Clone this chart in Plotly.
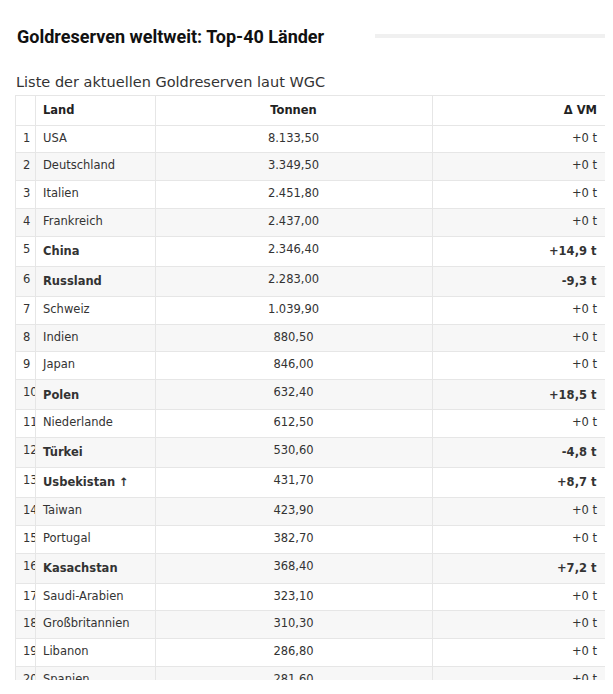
import plotly.graph_objects as go

ranks = [str(i) for i in range(1, 21)]
countries = ["USA","Deutschland","Italien","Frankreich","China","Russland","Schweiz","Indien","Japan","Polen",
             "Niederlande","Türkei","Usbekistan ↑","Taiwan","Portugal","Kasachstan","Saudi-Arabien","Großbritannien","Libanon","Spanien"]
tonnes = ["8.133,50","3.349,50","2.451,80","2.437,00","2.346,40","2.283,00","1.039,90","880,50","846,00","632,40",
          "612,50","530,60","431,70","423,90","382,70","368,40","323,10","310,30","286,80","281,60"]
delta = ["+0 t","+0 t","+0 t","+0 t","+14,9 t","-9,3 t","+0 t","+0 t","+0 t","+18,5 t",
         "+0 t","-4,8 t","+8,7 t","+0 t","+0 t","+7,2 t","+0 t","+0 t","+0 t","+0 t"]
headers = ["", "Land", "Tonnen", "Δ VM"]

bold = [d != "+0 t" for d in delta]
land_txt = [f"<b>{c}</b>" if b else c for c, b in zip(countries, bold)]
delta_txt = [f"<b>{d}</b>" if b else d for d, b in zip(delta, bold)]
fills = ["#ffffff" if i % 2 == 0 else "#f7f7f7" for i in range(20)]

ML, MR, MT, MB = 7, 16, 87, 22
W, H = 613, 694
PW, PH = W - ML - MR, H - MT - MB

def px(xs):  # screen x -> paper
    return (xs - 8 - ML) / PW

def py(ys):  # screen y -> paper
    return (H - (ys - 8) - MB) / PH

fig = go.Figure(go.Table(
    columnwidth=[20, 120, 277, 173],
    header=dict(values=["", "<b>Land</b>", "<b>Tonnen</b>", "<b>Δ VM</b>"],
                align=["left", "left", "center", "right"],
                fill_color="white", line_color="#e6e6e6",
                font=dict(family="DejaVu Sans", size=11.5, color="#222"), height=28),
    cells=dict(values=[ranks, land_txt, tonnes, delta_txt],
               align=["left", "left", "center", "right"],
               fill_color=[fills]*4, line_color="#e6e6e6",
               font=dict(family="DejaVu Sans", size=11.5, color="#333"), height=27.8),
))
fig.update_layout(
    width=W, height=H, margin=dict(l=ML, r=MR, t=MT, b=MB),
    paper_bgcolor="white",
    annotations=[
        dict(text="<b>Goldreserven weltweit: Top-40 Länder</b>", x=px(15), y=py(37), xref="paper", yref="paper",
             showarrow=False, xanchor="left", yanchor="middle", font=dict(family="Roboto", size=18, color="#111")),
        dict(text="Liste der aktuellen Goldreserven laut WGC", x=px(14), y=py(82), xref="paper", yref="paper",
             showarrow=False, xanchor="left", yanchor="middle", font=dict(family="DejaVu Sans", size=14.5, color="#333")),
    ],
)
fig.add_shape(type="line", xref="paper", yref="paper", x0=px(375), x1=px(605),
              y0=py(36), y1=py(36), line=dict(color="#f0f0f0", width=4))
fig.write_html("out.html")
